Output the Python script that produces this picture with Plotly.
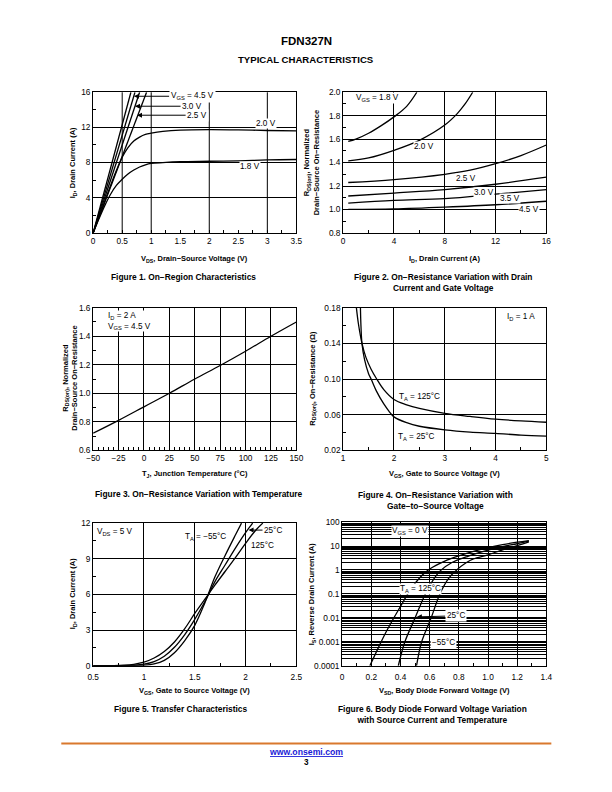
import plotly.graph_objects as go

FONT = "Liberation Sans, Arial, sans-serif"
W, H = 612, 792
# the photographed page is shown slightly inset; map reference pixels onto the page
OX, SX = 5.5, 0.981
OY, SY = 3.5, 0.990


def px(x):
    return ((x - OX) / SX) / W


def py(y):
    return 1 - ((y - OY) / SY) / H


# ---------------- Figure 1: On-Region Characteristics ----------------
f1_x_ticks = [0, 0.5, 1, 1.5, 2, 2.5, 3, 3.5]
f1_x_ticktext = ["0", "0.5", "1", "1.5", "2", "2.5", "3", "3.5"]
f1_y_ticks = [0, 4, 8, 12, 16]
f1_x_grid = [0.5, 1, 2, 3]
f1_steep_vds = [0, 0.65]
f1_steep_id = [0, 16]
f1_v45_vds = [0, 0.72]
f1_v45_id = [0, 16]
f1_v30_vds = [0, 0.80]
f1_v30_id = [0, 16]
f1_v25_vds = [0, 0.92]
f1_v25_id = [0, 16]
f1_curve_vds = [0, 0.1, 0.2, 0.3, 0.4, 0.5, 0.6, 0.7, 0.8, 0.9, 1.0, 1.2, 1.5, 2.0, 2.5, 3.0, 3.5]
f1_v20_id = [0, 1.8, 3.6, 5.4, 7.1, 8.6, 9.7, 10.45, 10.9, 11.2, 11.35, 11.55, 11.7, 11.75, 11.72, 11.65, 11.6]
f1_v18_id = [0, 1.6, 3.1, 4.4, 5.4, 6.1, 6.7, 7.15, 7.5, 7.75, 7.9, 8.0, 8.1, 8.15, 8.2, 8.3, 8.35]

# ---------------- Figure 2: RDS(on) vs ID and VGS ----------------
f2_x_ticks = [0, 4, 8, 12, 16]
f2_y_ticks = [0.8, 1.0, 1.2, 1.4, 1.6, 1.8, 2.0]
f2_y_ticktext = ["0.8", "1.0", "1.2", "1.4", "1.6", "1.8", "2.0"]
f2_v18_id = [0.4, 1, 2, 3, 4, 5, 5.8]
f2_v18_r = [1.58, 1.60, 1.65, 1.715, 1.79, 1.88, 2.0]
f2_v20_id = [0.4, 2, 4, 6, 8, 9, 9.6, 10.2]
f2_v20_r = [1.415, 1.44, 1.505, 1.59, 1.72, 1.82, 1.9, 2.0]
f2_v25_id = [0.4, 4, 8, 10, 12, 14, 16]
f2_v25_r = [1.23, 1.255, 1.30, 1.335, 1.39, 1.46, 1.55]
f2_v30_id = [0.4, 4, 8, 12, 16]
f2_v30_r = [1.115, 1.14, 1.17, 1.215, 1.275]
f2_v35_id = [0.4, 4, 8, 12, 16]
f2_v35_r = [1.054, 1.077, 1.093, 1.13, 1.17]
f2_v45_id = [0.4, 4, 8, 12, 16]
f2_v45_r = [1.0, 1.005, 1.02, 1.04, 1.07]

# ---------------- Figure 3: RDS(on) vs Temperature ----------------
f3_x_ticks = [-50, -25, 0, 25, 50, 75, 100, 125, 150]
f3_x_ticktext = ["\u221250", "\u221225", "0", "25", "50", "75", "100", "125", "150"]
f3_y_ticks = [0.6, 0.8, 1.0, 1.2, 1.4, 1.6]
f3_y_ticktext = ["0.6", "0.8", "1.0", "1.2", "1.4", "1.6"]
f3_tj = [-50, -25, 0, 25, 50, 75, 100, 125, 150]
f3_r = [0.72, 0.81, 0.905, 1.0, 1.1, 1.195, 1.295, 1.4, 1.5]

# ---------------- Figure 4: RDS(on) vs VGS ----------------
f4_x_ticks = [1, 2, 3, 4, 5]
f4_y_ticks = [0.02, 0.06, 0.10, 0.14, 0.18]
f4_y_ticktext = ["0.02", "0.06", "0.10", "0.14", "0.18"]
f4_t125_vgs = [1.26, 1.3, 1.37, 1.45, 1.55, 1.66, 1.8, 2.0, 2.25, 2.5, 3.0, 3.5, 4.0, 4.5, 5.0]
f4_t125_r = [0.18, 0.162, 0.14, 0.124, 0.111, 0.10, 0.088, 0.077, 0.071, 0.067, 0.0615, 0.058, 0.055, 0.053, 0.0515]
f4_t25_vgs = [1.34, 1.35, 1.37, 1.42, 1.5, 1.55, 1.65, 1.8, 1.9, 2.0, 2.25, 2.5, 3.0, 3.5, 4.0, 4.5, 5.0]
f4_t25_r = [0.18, 0.16, 0.14, 0.122, 0.106, 0.10, 0.087, 0.072, 0.064, 0.0575, 0.051, 0.047, 0.043, 0.0405, 0.039, 0.037, 0.036]

# ---------------- Figure 5: Transfer Characteristics ----------------
f5_x_ticks = [0.5, 1, 1.5, 2, 2.5]
f5_x_ticktext = ["0.5", "1", "1.5", "2", "2.5"]
f5_y_ticks = [0, 3, 6, 9, 12]
f5_m55_vgs = [0.5, 0.9, 1.0, 1.1, 1.2, 1.3, 1.4, 1.5, 1.6, 1.7, 1.8, 1.9, 1.96]
f5_m55_id = [0, 0.01, 0.04, 0.15, 0.45, 1.1, 2.1, 3.4, 5.3, 7.5, 9.3, 11.0, 12.0]
f5_25_vgs = [0.5, 0.8, 0.9, 1.0, 1.1, 1.2, 1.3, 1.4, 1.5, 1.6, 1.7, 1.8, 1.9, 2.0, 2.07]
f5_25_id = [0, 0.01, 0.04, 0.13, 0.35, 0.8, 1.55, 2.6, 3.9, 5.4, 7.1, 8.5, 9.9, 11.2, 12.0]
f5_125_vgs = [0.5, 0.7, 0.8, 0.9, 1.0, 1.1, 1.2, 1.3, 1.4, 1.5, 1.6, 1.7, 1.8, 1.9, 2.0, 2.1, 2.17]
f5_125_id = [0, 0.01, 0.04, 0.12, 0.3, 0.65, 1.2, 2.0, 3.1, 4.4, 5.6, 6.8, 7.95, 9.1, 10.3, 11.4, 12.0]

# ---------------- Figure 6: Body Diode Forward Voltage ----------------
f6_x_ticks = [0, 0.2, 0.4, 0.6, 0.8, 1.0, 1.2, 1.4]
f6_x_ticktext = ["0", "0.2", "0.4", "0.6", "0.8", "1.0", "1.2", "1.4"]
f6_y_ticks = [0.0001, 0.001, 0.01, 0.1, 1, 10, 100]
f6_y_ticktext = ["0.0001", "0.001", "0.01", "0.1", "1", "10", "100"]
f6_125_vsd = [0.19, 0.25, 0.3, 0.35, 0.4, 0.45, 0.5, 0.55, 0.6, 0.7, 0.8, 0.9, 1.0, 1.1, 1.2, 1.28]
f6_125_is = [0.0001, 0.0006, 0.0025, 0.009, 0.03, 0.1, 0.28, 0.62, 1.1, 2.3, 3.9, 6.0, 8.6, 11.5, 14.5, 17.0]
f6_25_vsd = [0.385, 0.43, 0.5, 0.57, 0.62, 0.67, 0.75, 0.85, 0.9, 1.0, 1.1, 1.2, 1.28]
f6_25_is = [0.0001, 0.001, 0.01, 0.1, 0.35, 0.9, 2.0, 3.5, 4.5, 6.8, 9.5, 12.5, 16.0]
f6_m55_vsd = [0.51, 0.545, 0.61, 0.67, 0.73, 0.785, 0.85, 0.9, 1.0, 1.1, 1.2, 1.28]
f6_m55_is = [0.0001, 0.001, 0.01, 0.1, 0.45, 1.0, 2.0, 2.9, 4.3, 7.0, 10.5, 15.0]

# ---------------- plot areas (reference pixel boxes: left, right, top, bottom) ----------------
BOX = {
    1: (92, 296, 91, 232),
    2: (343, 547, 91, 232),
    3: (92, 296, 307, 450),
    4: (343, 547, 307, 450),
    5: (92, 296, 523, 666),
    6: (342, 547, 522, 666),
}

fig = go.Figure()
LINE = dict(color="black", width=1.3)


def add(xs, ys, n, name, shape="spline"):
    sfx = "" if n == 1 else str(n)
    fig.add_trace(go.Scatter(x=xs, y=ys, mode="lines", name=name, line=dict(LINE, shape=shape),
                             xaxis="x" + sfx, yaxis="y" + sfx, showlegend=False, hoverinfo="skip"))


add(f1_steep_vds, f1_steep_id, 1, "steep", "linear")
add(f1_v45_vds, f1_v45_id, 1, "VGS 4.5 V", "linear")
add(f1_v30_vds, f1_v30_id, 1, "VGS 3.0 V", "linear")
add(f1_v25_vds, f1_v25_id, 1, "VGS 2.5 V", "linear")
add(f1_curve_vds, f1_v20_id, 1, "VGS 2.0 V")
add(f1_curve_vds, f1_v18_id, 1, "VGS 1.8 V")

add(f2_v18_id, f2_v18_r, 2, "1.8 V")
add(f2_v20_id, f2_v20_r, 2, "2.0 V")
add(f2_v25_id, f2_v25_r, 2, "2.5 V")
add(f2_v30_id, f2_v30_r, 2, "3.0 V")
add(f2_v35_id, f2_v35_r, 2, "3.5 V")
add(f2_v45_id, f2_v45_r, 2, "4.5 V")

add(f3_tj, f3_r, 3, "RDS norm")

add(f4_t125_vgs, f4_t125_r, 4, "125C")
add(f4_t25_vgs, f4_t25_r, 4, "25C")

add(f5_m55_vgs, f5_m55_id, 5, "-55C")
add(f5_25_vgs, f5_25_id, 5, "25C")
add(f5_125_vgs, f5_125_id, 5, "125C")

add(f6_125_vsd, f6_125_is, 6, "125C")
add(f6_25_vsd, f6_25_is, 6, "25C")
add(f6_m55_vsd, f6_m55_is, 6, "-55C")

TICKFONT = dict(family=FONT, size=8.3, color="black")


def xaxis(n, rng, tickvals, ticktext, mdtick, mtick0, grid=True, standoff=0):
    l, r, t, b = BOX[n]
    return dict(domain=[px(l), px(r)], range=rng, anchor="y" if n == 1 else "y" + str(n),
                tickmode="array", tickvals=tickvals, ticktext=ticktext, tickfont=TICKFONT,
                ticks="inside", ticklen=3, tickcolor="black", ticklabelstandoff=standoff,
                showline=True, linecolor="black", linewidth=1, mirror=True,
                showgrid=grid, gridcolor="black", gridwidth=1, zeroline=False, fixedrange=True,
                minor=dict(ticks="inside", ticklen=3, tickcolor="black", dtick=mdtick, tick0=mtick0, showgrid=False))


def yaxis(n, rng, tickvals, ticktext, mdtick, mtick0, grid=True, typ="linear"):
    l, r, t, b = BOX[n]
    d = dict(domain=[py(b), py(t)], range=rng, anchor="x" if n == 1 else "x" + str(n), type=typ,
             tickmode="array", tickvals=tickvals, ticktext=ticktext, tickfont=TICKFONT,
             ticks="inside", ticklen=3, tickcolor="black",
             showline=True, linecolor="black", linewidth=1, mirror=True,
             showgrid=grid, gridcolor="black", gridwidth=1, zeroline=False, fixedrange=True)
    if typ == "log":
        d["minor"] = dict(ticks="", dtick="D1", showgrid=True, gridcolor="black", gridwidth=1)
    else:
        d["minor"] = dict(ticks="inside", ticklen=3, tickcolor="black", dtick=mdtick, tick0=mtick0, showgrid=False)
    return d


layout = dict(
    width=W, height=H, margin=dict(l=0, r=0, t=0, b=0), autosize=False,
    paper_bgcolor="white", plot_bgcolor="white", showlegend=False,
    font=dict(family=FONT, color="black"),
    xaxis=xaxis(1, [0, 3.5], f1_x_ticks, f1_x_ticktext, 0.25, 0, grid=False),
    yaxis=yaxis(1, [0, 16], f1_y_ticks, [str(v) for v in f1_y_ticks], 2, 0),
    xaxis2=xaxis(2, [0, 16], f2_x_ticks, [str(v) for v in f2_x_ticks], 2, 0),
    yaxis2=yaxis(2, [0.8, 2.0], f2_y_ticks, f2_y_ticktext, 0.1, 0.8),
    xaxis3=xaxis(3, [-50, 150], f3_x_ticks, f3_x_ticktext, 5, 0),
    yaxis3=yaxis(3, [0.6, 1.6], f3_y_ticks, f3_y_ticktext, 0.1, 0.6),
    xaxis4=xaxis(4, [1, 5], f4_x_ticks, [str(v) for v in f4_x_ticks], 0.5, 1),
    yaxis4=yaxis(4, [0.02, 0.18], f4_y_ticks, f4_y_ticktext, 0.02, 0.02),
    xaxis5=xaxis(5, [0.5, 2.5], f5_x_ticks, f5_x_ticktext, 0.25, 0.5, standoff=3),
    yaxis5=yaxis(5, [0, 12], f5_y_ticks, [str(v) for v in f5_y_ticks], 1.5, 0),
    xaxis6=xaxis(6, [0, 1.4], f6_x_ticks, f6_x_ticktext, 0.1, 0, standoff=3),
    yaxis6=yaxis(6, [-4, 2], f6_y_ticks, f6_y_ticktext, None, None, typ="log"),
)
fig.update_layout(**layout)

# chart 1 vertical grid lines (only at selected values)
for v in f1_x_grid:
    fig.add_shape(type="line", x0=v, x1=v, xref="x", y0=0, y1=1, yref="y domain",
                  line=dict(color="black", width=1), layer="below")

# footer rule
fig.add_shape(type="line", x0=px(60), x1=px(552), y0=py(744), y1=py(744), xref="paper", yref="paper",
              line=dict(color="#D9782D", width=2))

ann = []


def lab(text, x, y, size=8.2, bg=None, bold=False, angle=0, align="center", xanchor="center", color="black"):
    t = "<b>" + text + "</b>" if bold else text
    ann.append(dict(text=t, x=px(x), y=py(y), xref="paper", yref="paper", showarrow=False,
                    font=dict(family=FONT, size=size, color=color), bgcolor=bg, borderpad=0,
                    textangle=angle, align=align, xanchor=xanchor, yanchor="middle"))


def arrow_lab(text, tipx, tipy, labx, laby, size=8.2, head=2, bg="white"):
    ann.append(dict(text=text, x=px(tipx), y=py(tipy), xref="paper", yref="paper", showarrow=True,
                    ax=(labx - tipx) / SX, ay=(laby - tipy) / SY, arrowhead=head, arrowsize=1, arrowwidth=1,
                    arrowcolor="black", standoff=0, startstandoff=0,
                    font=dict(family=FONT, size=size, color="black"), bgcolor=bg, borderpad=1))


# header
lab("FDN327N", 306, 40, size=11.5, bold=True)
lab("TYPICAL CHARACTERISTICS", 306, 58, size=9.6, bold=True)

# axis titles
TS = 7.5
lab("V<sub>DS</sub>, Drain\u2212Source Voltage (V)", 194, 258, TS, bold=True)
lab("I<sub>D</sub>, Drain Current (A)", 72, 162, TS, bold=True, angle=-90)
lab("I<sub>D</sub>, Drain Current (A)", 445, 258, TS, bold=True)
lab("R<sub>DS(on)</sub>, Normalized<br>Drain\u2212Source On\u2212Resistance", 311, 162, TS, bold=True, angle=-90)
lab("T<sub>J</sub>, Junction Temperature (\u00b0C)", 194, 474, TS, bold=True)
lab("R<sub>DS(on)</sub>, Normalized<br>Drain\u2212Source On\u2212Resistance", 69, 378, TS, bold=True, angle=-90)
lab("V<sub>GS</sub>, Gate to Source Voltage (V)", 445, 474, TS, bold=True)
lab("R<sub>DS(on)</sub>, On\u2212Resistance (\u03a9)", 312, 378, TS, bold=True, angle=-90)
lab("V<sub>GS</sub>, Gate to Source Voltage (V)", 194, 691, TS, bold=True)
lab("I<sub>D</sub>, Drain Current (A)", 72, 594, TS, bold=True, angle=-90)
lab("V<sub>SD</sub>, Body Diode Forward Voltage (V)", 445, 691, TS, bold=True)
lab("I<sub>S</sub>, Reverse Drain Current (A)", 312, 594, TS, bold=True, angle=-90)

# captions
CS = 8.4
lab("Figure 1. On\u2212Region Characteristics", 183, 276, CS, bold=True)
lab("Figure 2. On\u2212Resistance Variation with Drain<br>Current and Gate Voltage", 443, 282, CS, bold=True)
lab("Figure 3. On\u2212Resistance Variation with Temperature", 198, 494, CS, bold=True)
lab("Figure 4. On\u2212Resistance Variation with<br>Gate\u2212to\u2212Source Voltage", 436, 500, CS, bold=True)
lab("Figure 5. Transfer Characteristics", 180, 709, CS, bold=True)
lab("Figure 6. Body Diode Forward Voltage Variation<br>with Source Current and Temperature", 433, 715, CS, bold=True)

# chart 1 labels
arrow_lab("V<sub>GS</sub> = 4.5 V", 133, 95, 190, 95)
arrow_lab("3.0 V", 134, 105, 190, 105)
arrow_lab("2.5 V", 136, 114, 195, 114)
lab("2.0 V", 266, 122, bg="white")
lab("1.8 V", 249, 165.5, bg="white")

# chart 2 labels
lab("V<sub>GS</sub> = 1.8 V", 377, 97, bg="white")
lab("2.0 V", 424, 145, bg="white")
lab("2.5 V", 466, 177, bg="white")
lab("3.0 V", 484, 191, bg="white")
lab("3.5 V", 510, 198, bg="white")
lab("4.5 V", 530, 209, bg="white")

# chart 3 label
lab("I<sub>D</sub> = 2 A<br>V<sub>GS</sub> = 4.5 V", 106, 320, bg="white", align="left", xanchor="left")

# chart 4 labels
lab("I<sub>D</sub> = 1 A", 522, 316)
lab("T<sub>A</sub> = 125\u00b0C", 420, 397)
lab("T<sub>A</sub> = 25\u00b0C", 417, 437)

# chart 5 labels
lab("V<sub>DS</sub> = 5 V", 114, 532, bg="white")
lab("T<sub>A</sub> = \u221255\u00b0C", 205, 537)
arrow_lab("25\u00b0C", 248, 530, 272, 530, bg=None)
lab("125\u00b0C", 262, 545)

# chart 6 labels
lab("V<sub>GS</sub> = 0 V", 410, 531, bg="white")
lab("T<sub>A</sub> = 125\u00b0C", 421, 589, bg="white")
arrow_lab("25\u00b0C", 417, 617, 455, 616)
arrow_lab("\u221255\u00b0C", 423, 642, 443, 643, head=0)

# footer
lab("<u>www.onsemi.com</u>", 306, 752, 8.7, bold=True, color="#1a1ad6")
lab("3", 306, 763, 8.2, bold=True)

fig.update_layout(annotations=ann)
fig.write_html("out.html", config={"displayModeBar": False},
               post_script="document.body.style.margin='0';document.body.style.overflow='hidden';"
                           "document.documentElement.style.overflow='hidden';")
